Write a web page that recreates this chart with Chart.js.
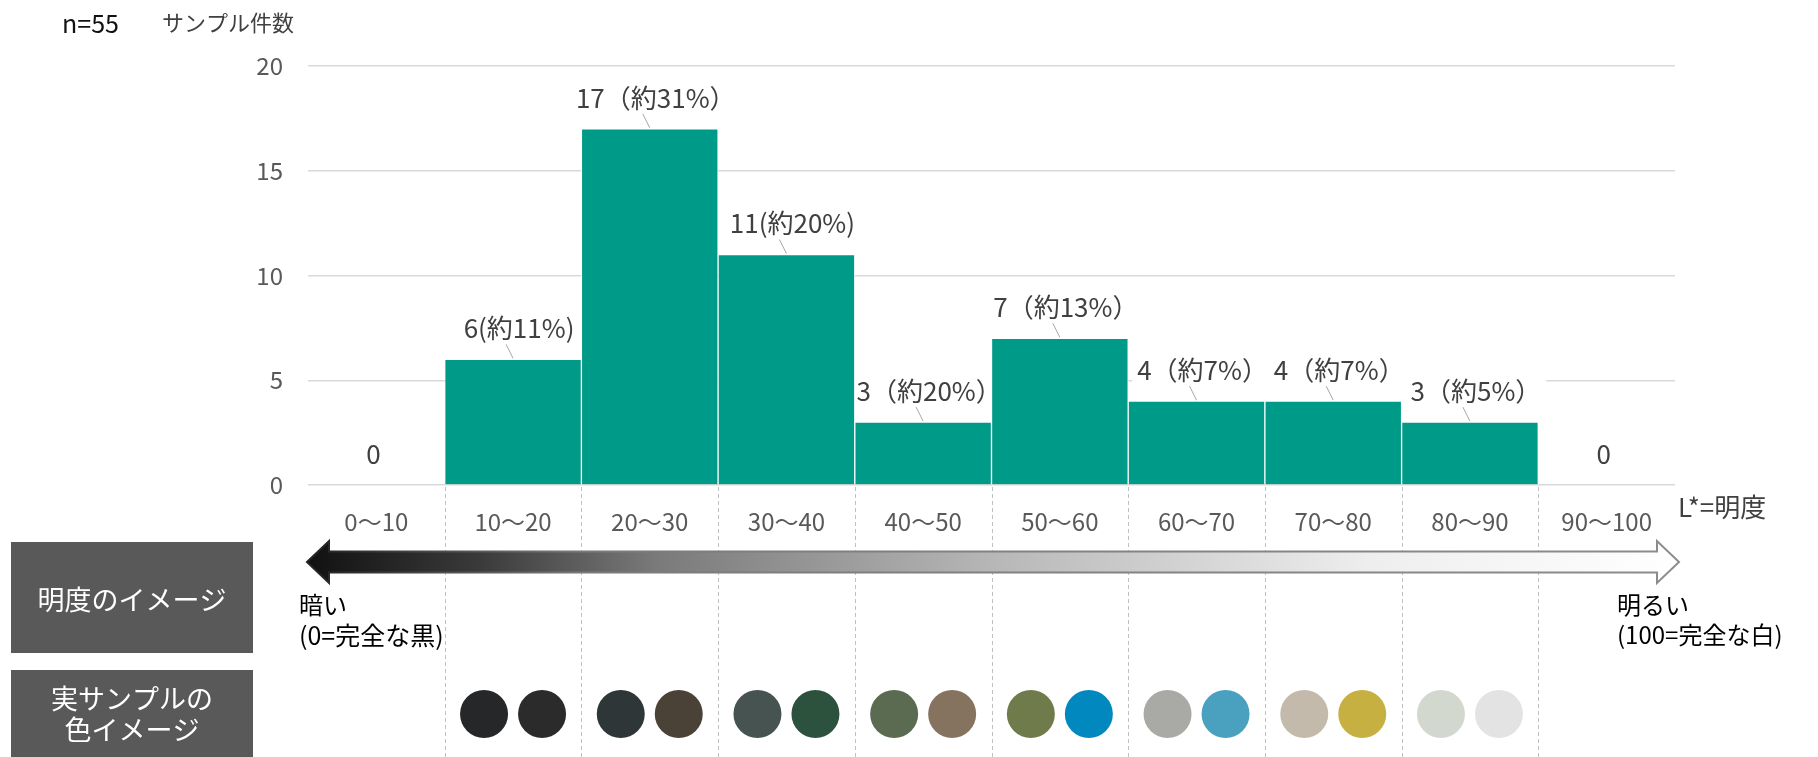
<!DOCTYPE html>
<html>
<head>
<meta charset="utf-8">
<script src="https://cdn.jsdelivr.net/npm/chart.js@4/dist/chart.umd.min.js"></script>
<style>
html, body { margin: 0; padding: 0; background: #fff; }
#wrap { width: 1818px; height: 757px; }
</style>
</head>
<body>
<div id="wrap"><canvas id="myChart" width="1818" height="757"></canvas></div>
<script>
var categories = ["0～10", "10～20", "20～30", "30～40", "40～50", "50～60", "60～70", "70～80", "80～90", "90～100"];
var counts = [0, 6, 17, 11, 3, 7, 4, 4, 3, 0];
var countLabels = ["0", "6(約11%)", "17（約31%）", "11(約20%)", "3（約20%）", "7（約13%）", "4（約7%）", "4（約7%）", "3（約5%）", "0"];
var yMax = 20;
var yStep = 5;
var sampleColors = [
    [],
    ["#262728", "#2b2b2b"],
    ["#2f3637", "#4a4237"],
    ["#465350", "#2c523d"],
    ["#5a6b52", "#86735f"],
    ["#707b4b", "#0088bf"],
    ["#a9aaa5", "#4aa1bf"],
    ["#c4baac", "#c6b042"],
    ["#d2d8ce", "#e3e3e3"],
    []
];

var FONT = "'Noto Sans CJK JP', 'Noto Sans', sans-serif";
var LABEL_SIZE = 26;

function font (size) {
    return size + "px " + FONT;
}

function drawText (ctx, text, x, y, size, color, align) {
    ctx.font = font(size);
    ctx.fillStyle = color;
    ctx.textAlign = align || "left";
    ctx.textBaseline = "middle";
    ctx.fillText(text, x, y);
}

function labelPos (chart, i) {
    var cx = chart.scales.x.getPixelForValue(i);
    var top = chart.scales.y.getPixelForValue(counts[i]);
    return { cx: cx, top: top, x: cx + (counts[i] > 0 ? 6 : -3), y: top - 31 };
}

var extras = {
    id: "extras",
    beforeDatasetsDraw: function (chart) {
        // white boxes behind value labels (hide the gridlines, not the bars)
        var ctx = chart.ctx;
        ctx.save();
        ctx.font = font(LABEL_SIZE);
        counts.forEach(function (v, i) {
            var p = labelPos(chart, i);
            var w = ctx.measureText(countLabels[i]).width;
            ctx.fillStyle = "#fff";
            ctx.fillRect(p.x - w / 2 - 5, p.y - 15, w + 10, 30);
        });
        ctx.restore();
    },
    afterDatasetsDraw: function (chart) {
        var ctx = chart.ctx;
        var xs = chart.scales.x;
        var ys = chart.scales.y;
        var H = chart.height;
        ctx.save();

        // bar value labels with leader lines
        counts.forEach(function (v, i) {
            var p = labelPos(chart, i);
            drawText(ctx, countLabels[i], p.x, p.y, LABEL_SIZE, "#404040", "center");
            if (v > 0) {
                ctx.strokeStyle = "#a6a6a6";
                ctx.lineWidth = 1;
                ctx.beginPath();
                ctx.moveTo(p.cx - 7, p.top - 15);
                ctx.lineTo(p.cx, p.top - 1);
                ctx.stroke();
            }
        });

        // dashed separators
        ctx.strokeStyle = "#c0c0c0";
        ctx.lineWidth = 1;
        ctx.setLineDash([4, 3]);
        for (var i = 1; i < categories.length; i++) {
            var bx = Math.round((xs.getPixelForValue(i - 1) + xs.getPixelForValue(i)) / 2) + 0.5;
            ctx.beginPath();
            ctx.moveTo(bx, ys.bottom + 2);
            ctx.lineTo(bx, H);
            ctx.stroke();
        }
        ctx.setLineDash([]);

        // lightness arrow
        var x0 = xs.left - 1, x1 = xs.right + 4, ay = 562;
        var bh = 10.5, hh = 21, hl = 22;
        var g = ctx.createLinearGradient(x0, 0, x1, 0);
        g.addColorStop(0, "#111111");
        g.addColorStop(0.125, "#3a3a3a");
        g.addColorStop(0.255, "#7a7a7a");
        g.addColorStop(0.505, "#b8b8b8");
        g.addColorStop(0.775, "#eeeeee");
        g.addColorStop(1, "#ffffff");
        ctx.beginPath();
        ctx.moveTo(x0, ay);
        ctx.lineTo(x0 + hl, ay - hh);
        ctx.lineTo(x0 + hl, ay - bh);
        ctx.lineTo(x1 - hl, ay - bh);
        ctx.lineTo(x1 - hl, ay - hh);
        ctx.lineTo(x1, ay);
        ctx.lineTo(x1 - hl, ay + hh);
        ctx.lineTo(x1 - hl, ay + bh);
        ctx.lineTo(x0 + hl, ay + bh);
        ctx.lineTo(x0 + hl, ay + hh);
        ctx.closePath();
        ctx.fillStyle = g;
        ctx.fill();
        var sg = ctx.createLinearGradient(x0, 0, x1, 0);
        sg.addColorStop(0, "#222");
        sg.addColorStop(0.2, "#7a7a7a");
        sg.addColorStop(1, "#8c8c8c");
        ctx.strokeStyle = sg;
        ctx.lineWidth = 2;
        ctx.stroke();

        drawText(ctx, "暗い", 299, 605, 24, "#000");
        drawText(ctx, "(0=完全な黒)", 299, 635, 25, "#000");
        drawText(ctx, "明るい", 1617, 605, 24, "#000");
        drawText(ctx, "(100=完全な白)", 1617, 635, 24, "#000");
        drawText(ctx, "L*=明度", 1678, 507, 26, "#404040");

        // sample colour dots
        sampleColors.forEach(function (pair, i) {
            var cx = xs.getPixelForValue(i);
            pair.forEach(function (c, k) {
                ctx.fillStyle = c;
                ctx.beginPath();
                ctx.arc(cx + (k === 0 ? -29 : 29), 714, 24, 0, Math.PI * 2);
                ctx.fill();
            });
        });

        // left side boxes
        ctx.fillStyle = "#595959";
        ctx.fillRect(11, 542, 242, 111);
        ctx.fillRect(11, 670, 242, 87);
        drawText(ctx, "明度のイメージ", 132, 600, 27, "#fff", "center");
        drawText(ctx, "実サンプルの", 132, 699, 27, "#fff", "center");
        drawText(ctx, "色イメージ", 132, 730, 27, "#fff", "center");

        // header
        drawText(ctx, "n=55", 62, 23, 25, "#111");
        drawText(ctx, "サンプル件数", 162, 23, 22, "#404040");

        ctx.restore();
    }
};

var config = {
    type: "bar",
    data: {
        labels: categories,
        datasets: [{
            data: counts,
            backgroundColor: "#009b88",
            borderColor: "rgba(255,255,255,0.75)",
            borderWidth: 1,
            categoryPercentage: 1,
            barPercentage: 1
        }]
    },
    options: {
        responsive: false,
        animation: false,
        layout: { padding: { top: 66, right: 143, left: 0, bottom: 0 } },
        plugins: {
            legend: { display: false },
            tooltip: { enabled: false }
        },
        scales: {
            x: {
                grid: { display: false, drawTicks: false },
                border: { display: false },
                ticks: {
                    color: "#595959",
                    font: { size: 24, family: FONT },
                    padding: 22,
                    maxRotation: 0,
                    autoSkip: false
                },
                afterFit: function (scale) { scale.height = 272; }
            },
            y: {
                min: 0,
                max: yMax,
                grid: { color: "#d9d9d9", lineWidth: 1.5, drawTicks: false },
                border: { display: false },
                ticks: {
                    stepSize: yStep,
                    color: "#595959",
                    font: { size: 24, family: FONT },
                    padding: 25
                },
                afterFit: function (scale) { scale.width = 308; }
            }
        }
    },
    plugins: [extras]
};

window.myChart = new Chart(document.getElementById("myChart").getContext("2d"), config);
</script>
</body>
</html>
